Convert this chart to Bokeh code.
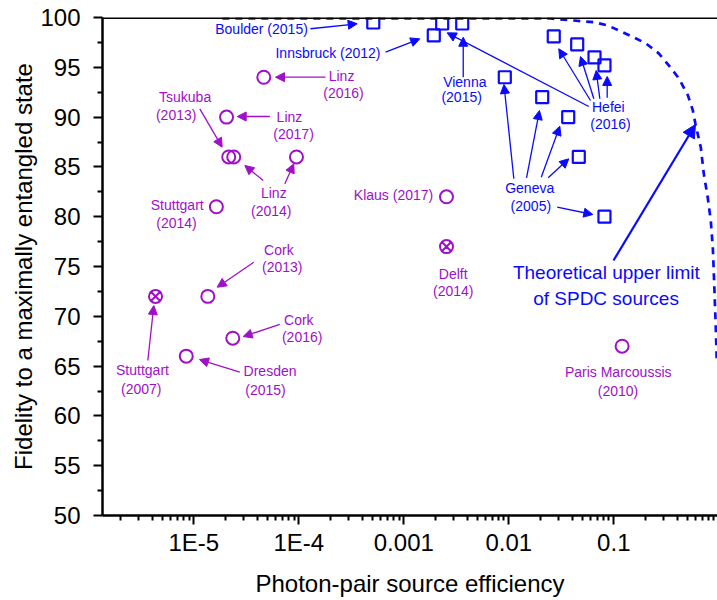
from bokeh.plotting import figure
from bokeh.models import Range1d, FixedTicker, ColumnDataSource, Arrow, NormalHead, Span, Label
from bokeh.core.properties import value
from bokeh.embed import file_html
from bokeh.resources import INLINE

FONT = "Liberation Sans"
PURPLE = "#a010c8"
BLUE = "#0a0aff"

# ---------------- data ----------------
# open circles (purple)
circle_eff = [4.64e-5, 2.05e-5, 2.15e-5, 2.40e-5, 9.5e-5, 1.64e-5, 1.36e-5, 2.35e-5, 8.47e-6, 2.55e-3, 0.120]
circle_fid = [94.0, 90.0, 86.0, 86.0, 86.0, 81.0, 72.0, 67.8, 66.0, 82.0, 67.0]
# crossed circles (purple)
crossed_eff = [4.32e-6, 2.55e-3]
crossed_fid = [72.0, 77.0]
# open squares (blue)
square_eff = [5.12e-4, 1.93e-3, 2.32e-3, 3.6e-3, 0.0268, 0.0448, 0.0655, 0.0815,
              9.16e-3, 0.0208, 0.0368, 0.0464, 0.0815]
square_fid = [99.5, 98.2, 99.4, 99.4, 98.1, 97.3, 96.0, 95.2,
              94.0, 92.0, 90.0, 86.0, 80.0]
# theoretical upper limit of SPDC sources (dashed)
limit_eff = [1.87e-5, 0.025, 0.0416, 0.0645, 0.0877, 0.117, 0.155, 0.202, 0.268, 0.334,
             0.416, 0.507, 0.565, 0.600, 0.674, 0.72, 0.785, 0.839, 0.877, 0.895, 0.916, 0.936, 0.957]
limit_fid = [99.9, 99.9, 99.7, 99.53, 99.2, 98.6, 98.0, 97.4, 96.4, 95.2,
             93.9, 92.2, 90.7, 89.3, 86.95, 84.3, 81.9, 79.6, 76.9, 74.6, 71.6, 68.9, 65.4]

# axis ticks
x_major = [1e-5, 1e-4, 1e-3, 1e-2, 1e-1, 1.0]
x_labels = ["1E-5", "1E-4", "0.001", "0.01", "0.1", "1"]
y_major = [50, 55, 60, 65, 70, 75, 80, 85, 90, 95, 100]
y_minor = [52.5, 57.5, 62.5, 67.5, 72.5, 77.5, 82.5, 87.5, 92.5, 97.5]
x_minor = [m * 10.0 ** d for d in range(-6, 0) for m in range(2, 10)]

# annotation texts: (text, log10 x, y)
purple_labels = [
    ("Linz", -3.593, 94.08), ("(2016)", -3.574, 92.37),
    ("Linz", -4.089, 90.06), ("(2017)", -4.050, 88.30),
    ("Tsukuba", -5.083, 92.00), ("(2013)", -5.168, 90.23),
    ("Linz", -4.238, 82.40), ("(2014)", -4.262, 80.62),
    ("Stuttgart", -5.158, 81.19), ("(2014)", -5.165, 79.35),
    ("Cork", -4.190, 76.68), ("(2013)", -4.158, 74.93),
    ("Stuttgart", -5.489, 64.56), ("(2007)", -5.501, 62.72),
    ("Cork", -4.000, 69.65), ("(2016)", -3.968, 67.90),
    ("Dresden", -4.274, 64.46), ("(2015)", -4.317, 62.62),
    ("Delft", -2.529, 74.27), ("(2014)", -2.529, 72.59),
    ("Paris Marcoussis", -0.958, 64.39), ("(2010)", -0.960, 62.55),
]
purple_right_labels = [("Klaus (2017)", -2.720, 82.13)]
blue_labels = [
    ("Boulder (2015)", -4.355, 98.87),
    ("Innsbruck (2012)", -3.722, 96.42),
    ("Vienna", -2.419, 93.50), ("(2015)", -2.449, 92.00),
    ("Hefei", -1.052, 90.99), ("(2016)", -1.031, 89.26),
    ("Geneva", -1.801, 82.86), ("(2005)", -1.790, 81.05),
]
big_labels = [("Theoretical upper limit", -1.071, 74.40), ("of SPDC sources", -1.074, 71.79)]

# arrows: (log10 x start, y start, log10 x end, y end)
purple_arrows = [
    (-3.746, 94.01, -4.222, 94.01),
    (-4.276, 90.06, -4.587, 90.06),
    (-4.943, 90.83, -4.730, 86.98),
    (-4.339, 83.63, -4.514, 85.14),
    (-4.133, 83.30, -4.048, 85.31),
    (-4.429, 75.43, -4.777, 72.92),
    (-5.438, 65.56, -5.381, 71.08),
    (-4.181, 69.18, -4.530, 67.97),
    (-4.562, 64.39, -4.946, 65.66),
]
blue_arrows = [
    (-3.889, 98.87, -3.444, 99.37),
    (-3.174, 96.52, -2.848, 97.86),
    (-2.434, 94.01, -2.434, 98.02),
    (-1.238, 91.06, -2.587, 98.46),
    (-1.222, 91.67, -1.524, 96.86),
    (-1.190, 91.84, -1.317, 96.08),
    (-1.133, 91.84, -1.168, 94.68),
    (-1.063, 91.94, -1.063, 94.08),
    (-1.952, 83.81, -2.046, 93.27),
    (-1.831, 83.91, -1.708, 90.66),
    (-1.691, 83.97, -1.514, 89.09),
    (-1.625, 83.91, -1.429, 85.81),
    (-1.539, 80.95, -1.200, 80.22),
]
big_arrows = [(-1.003, 75.60, -0.222, 89.26)]

# ---------------- figure ----------------
p = figure(x_axis_type="log", x_range=Range1d(1.35e-6, 0.972), y_range=Range1d(50, 100),
           frame_width=615, frame_height=498,
           min_border_left=102, min_border_right=0, min_border_top=17, min_border_bottom=83,
           output_backend="svg", toolbar_location=None)
p.background_fill_color = "white"
p.border_fill_color = "white"
p.outline_line_color = None
p.xgrid.visible = False
p.ygrid.visible = False

for ax in (p.xaxis[0], p.yaxis[0]):
    ax.axis_line_width = 2.5
    ax.axis_line_color = "black"
    ax.major_tick_line_width = 2
    ax.minor_tick_line_width = 2
    ax.major_tick_out = 9
    ax.major_tick_in = 0
    ax.minor_tick_out = 5
    ax.minor_tick_in = 0
    ax.major_label_text_font = FONT
    ax.major_label_text_font_size = "24px"
    ax.major_label_text_color = "black"
    ax.axis_label_text_font = FONT
    ax.axis_label_text_font_size = "24px"
    ax.axis_label_text_font_style = "normal"
    ax.axis_label_text_color = "black"

p.xaxis.ticker = FixedTicker(ticks=x_major, minor_ticks=x_minor)
p.xaxis.major_label_overrides = {t: l for t, l in zip(x_major, x_labels)}
p.xaxis.major_label_standoff = 4
p.xaxis.axis_label = "Photon-pair source efficiency"
p.xaxis.axis_label_standoff = 11

p.yaxis.ticker = FixedTicker(ticks=y_major, minor_ticks=y_minor)
p.yaxis.major_label_standoff = 13
p.yaxis.axis_label = "Fidelity to a maximally entangled state"
p.yaxis.axis_label_standoff = 0

# thick top border
p.add_layout(Span(location=100, dimension="width", line_color="black", line_width=3))

# theoretical limit curve
p.line(limit_eff, limit_fid, line_color=BLUE, line_width=2.7, line_dash="7 6")

# markers
p.scatter(circle_eff, circle_fid, marker="circle", size=13, fill_color=None,
          line_color=PURPLE, line_width=2)
p.scatter(crossed_eff, crossed_fid, marker="circle_x", size=13, fill_color=None,
          line_color=PURPLE, line_width=2)
p.scatter(square_eff, square_fid, marker="square", size=12, fill_color=None,
          line_color=BLUE, line_width=2.2)


def add_texts(items, color, size, align="center"):
    src = ColumnDataSource(dict(x=[10 ** a for _, a, _ in items],
                                y=[b for _, _, b in items],
                                t=[s for s, _, _ in items]))
    p.text(x="x", y="y", text="t", source=src, text_font=value(FONT),
           text_font_size=size, text_color=color, text_align=align,
           text_baseline="middle")


def add_arrows(items, color, lw, head):
    src = ColumnDataSource(dict(x0=[10 ** a for a, _, _, _ in items],
                                y0=[b for _, b, _, _ in items],
                                x1=[10 ** c for _, _, c, _ in items],
                                y1=[d for _, _, _, d in items]))
    p.add_layout(Arrow(end=NormalHead(size=head, fill_color=color, line_color=color, line_width=1),
                       x_start="x0", y_start="y0", x_end="x1", y_end="y1", source=src,
                       line_color=color, line_width=lw))


add_arrows(purple_arrows, PURPLE, 1.3, 9)
add_arrows(blue_arrows, BLUE, 1.3, 9)
add_arrows(big_arrows, BLUE, 2.2, 13)

add_texts(purple_labels, PURPLE, "14px")
add_texts(purple_right_labels, PURPLE, "14px", align="right")
add_texts(blue_labels, BLUE, "14px")
add_texts(big_labels, BLUE, "19px")

# the "1" tick label at the cut-off right edge
p.add_layout(Label(x=1.0, y=50, text="1", y_offset=-28, text_align="center",
                   text_baseline="middle", text_font=FONT, text_font_size="24px",
                   text_color="black"))

open("out.html", "w").write(file_html(p, INLINE))
